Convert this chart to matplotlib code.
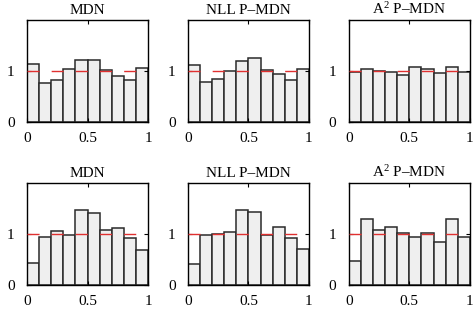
import numpy as np
import matplotlib
matplotlib.use('Agg')
import matplotlib.pyplot as plt

plt.rcParams['font.family'] = ['Liberation Serif', 'DejaVu Serif']
plt.rcParams['mathtext.fontset'] = 'custom'
plt.rcParams['mathtext.rm'] = 'Liberation Serif'
plt.rcParams['mathtext.it'] = 'Liberation Serif'
plt.rcParams['mathtext.default'] = 'regular'

# histogram densities, 10 bins on [0, 1]
titles = ['MDN', 'NLL P\u2013MDN', 'A$^2$ P\u2013MDN']
top_mdn = [1.13, 0.77, 0.82, 1.03, 1.22, 1.22, 1.01, 0.89, 0.82, 1.06]
top_nll = [1.12, 0.79, 0.83, 1.00, 1.20, 1.26, 1.01, 0.93, 0.82, 1.04]
top_a2 = [0.98, 1.04, 1.00, 0.97, 0.92, 1.08, 1.03, 0.95, 1.08, 0.98]
bot_mdn = [0.43, 0.94, 1.05, 0.97, 1.47, 1.40, 1.08, 1.11, 0.92, 0.69]
bot_nll = [0.41, 0.98, 1.00, 1.03, 1.47, 1.43, 0.98, 1.14, 0.91, 0.71]
bot_a2 = [0.46, 1.28, 1.08, 1.14, 1.02, 0.94, 1.02, 0.84, 1.28, 0.94]

rows = [[top_mdn, top_nll, top_a2], [bot_mdn, bot_nll, bot_a2]]
edges = np.linspace(0, 1, 11)

fig = plt.figure(figsize=(4.76, 3.14), dpi=100)
lefts = [0.057, 0.395, 0.733]
bottoms = [0.612, 0.093]
w, h = 0.254, 0.325

for r, row in enumerate(rows):
    for c, vals in enumerate(row):
        ax = fig.add_axes([lefts[c], bottoms[r], w, h])
        ax.bar(edges[:-1], vals, width=0.1, align='edge',
               color='#efefef', edgecolor='#2a2a2a', linewidth=1.1)
        ax.plot([0, 1], [1, 1], color='#e03030', linewidth=1,
                dashes=(8.7, 8.7), zorder=3)
        ax.set_xlim(0, 1)
        ax.set_ylim(0, 2)
        ax.set_xticks([0, 0.5, 1])
        ax.set_xticklabels(['0', '0.5', '1'])
        ax.set_yticks([0, 1])
        ax.tick_params(direction='in', top=True, right=True, length=3,
                       labelsize=11)
        ax.tick_params(axis='x', pad=7)
        ax.tick_params(axis='y', pad=9)
        for s in ax.spines.values():
            s.set_linewidth(1)
        ax.set_title(titles[c], fontsize=11, pad=4)

fig.savefig('out.png', dpi=100)
